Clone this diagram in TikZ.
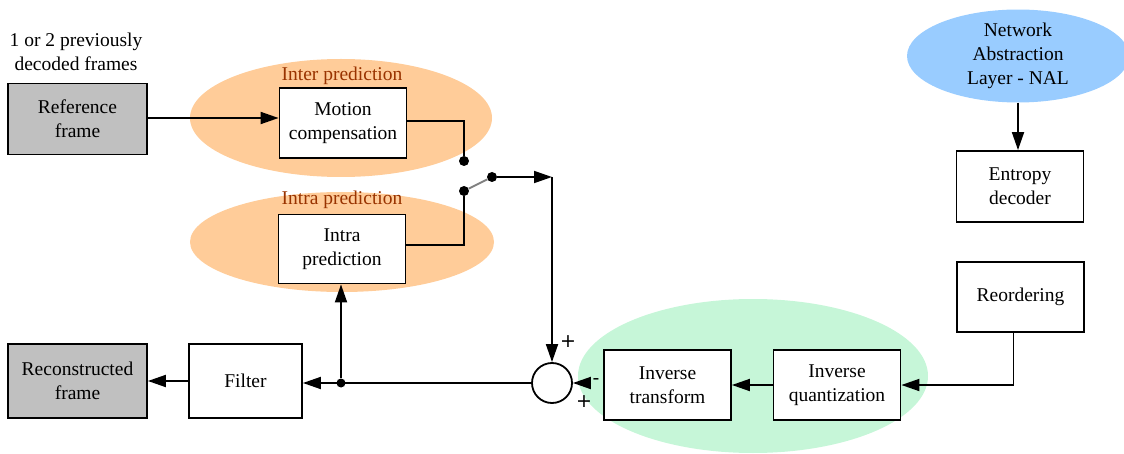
\documentclass[tikz,border=0pt]{standalone}
\usepackage{fontspec}
\setmainfont{Liberation Serif}
\newfontfamily\signfont{DejaVu Sans}
\usetikzlibrary{arrows.meta,shapes.geometric}
\definecolor{peach}{HTML}{FFCC99}
\definecolor{mint}{HTML}{C6F6D8}
\definecolor{sky}{HTML}{99CCFF}
\definecolor{framegray}{HTML}{C0C0C0}
\definecolor{rust}{HTML}{993300}
\begin{document}
\begin{tikzpicture}[x=1pt,y=-1pt,
  font=\fontsize{19.5}{24}\selectfont,
  box/.style={draw, line width=1.8pt, align=center, inner sep=0pt, fill=white},
  framebox/.style={box, fill=framegray, minimum width=139pt, minimum height=71pt},
  stagebox/.style={box, minimum width=127pt, minimum height=70pt},
  cloud/.style={ellipse, inner sep=0pt},
  grouplabel/.style={text=rust},
  conn/.style={line width=1.8pt},
  arr/.style={conn, -{Triangle[length=18pt,width=12pt]}},
  dot/.style={circle, fill=black, inner sep=0pt, minimum size=10pt},
  sign/.style={font=\fontsize{19}{19}\selectfont\signfont, inner sep=0pt}
]
\useasboundingbox (0,0) rectangle (1124,454);

% shaded groups
\node[cloud, fill=peach, minimum width=302pt, minimum height=118pt] (intergrp) at (341,118) {};
\node[cloud, fill=peach, minimum width=304pt, minimum height=100pt] (intragrp) at (342,242) {};
\node[cloud, fill=mint, minimum width=350pt, minimum height=154pt] (invgrp) at (753,376) {};
\node[grouplabel] (interlbl) at (342,76) {Inter prediction};
\node[grouplabel] (intralbl) at (342,200) {Intra prediction};

% NAL source
\node[cloud, fill=sky, minimum width=222pt, minimum height=92pt, align=center] (nal) at (1018,56)
  {Network\\Abstraction\\Layer - NAL};

% annotation above the reference frame
\node[align=center] (note) at (76,52) {1 or 2 previously\\decoded frames};

% blocks
\node[framebox] (ref) at (77.5,119) {Reference\\frame};
\node[framebox, minimum height=74pt] (recon) at (77.5,381) {Reconstructed\\frame};
\node[stagebox] (mc) at (343,123) {Motion\\compensation};
\node[stagebox, minimum height=69pt] (intra) at (342,249) {Intra\\prediction};
\node[box, minimum width=113pt, minimum height=74pt] (filter) at (245.5,381) {Filter};
\node[stagebox] (it) at (667.5,385) {Inverse\\transform};
\node[stagebox] (iq) at (837,385) {Inverse\\quantization};
\node[stagebox] (reorder) at (1020.5,297) {Reordering};
\node[stagebox, minimum height=71pt] (entropy) at (1020,186.5) {Entropy\\decoder};
\node[draw, circle, line width=1.8pt, minimum size=40pt, inner sep=0pt] (sum) at (552,383) {};

% prediction switch
\node[dot] (sw1) at (464,161) {};
\node[dot] (sw2) at (464,191) {};
\node[dot] (sw3) at (492,177) {};
\coordinate (swout) at (552,177);
\node[dot, minimum size=9pt] (tap) at (341,383) {};

% connectors
\draw[arr] (nal.south) -- (nal.south |- entropy.north);
\draw[arr] ([xshift=-7pt]reorder.south) |- (iq.east);
\draw[arr] (iq) -- (it);
\draw[arr] ([xshift=-12pt]it.west |- sum) -- (sum);
\draw[arr] (ref.east |- 0,118) -- (mc.west |- 0,118);
\draw[conn] (mc.east |- 0,121) -| (sw1);
\draw[conn] (intra.east |- 0,245) -| (sw2);
\draw[conn, gray] (sw2) -- (sw3);
\draw[arr] (sw3) -- (swout);
\draw[arr] (swout) -- (sum);
\draw[arr] (sum.west) -- (sum.west -| filter.east);
\draw[arr] (tap) -- (tap |- intra.south);
\draw[arr] (filter) -- (recon);

% summing signs
\node[sign] (plustop) at (568,342) {+};
\node[sign] (minus) at (596,382) {-};
\node[sign] (plusbot) at (584,402) {+};
\end{tikzpicture}
\end{document}
